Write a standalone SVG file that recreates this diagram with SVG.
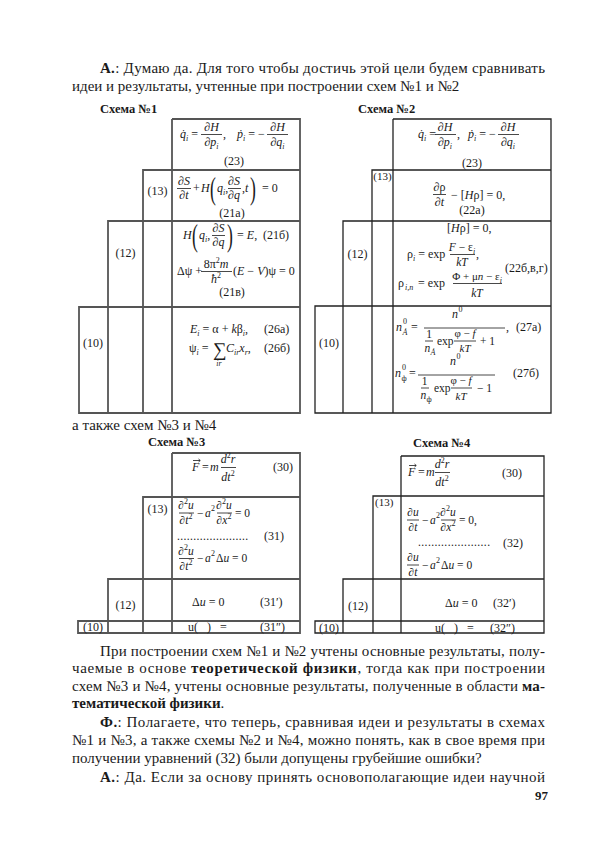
<svg xmlns="http://www.w3.org/2000/svg" width="601" height="850" viewBox="0 0 601 850">
<style>
.tx{font-family:"Liberation Serif","Times New Roman",serif;fill:#1a1a1a}
.p{font-size:15px}
.h{font-size:12.5px;font-weight:bold}
.f{font-size:12px}
.g{font-size:11.5px}
.k{font-size:11px}
.i{font-style:italic}
.sb{font-size:8px}
.b{font-weight:bold}
.fb{stroke:#1a1a1a;stroke-width:0.8}
.vec{fill:none;stroke:#1a1a1a;stroke-width:0.8}
.gr{fill:none;stroke:#555;stroke-width:1.8}
.gk{fill:none;stroke:#222;stroke-width:1.3}
</style>
<rect width="601" height="850" fill="#fff"/>

<g id="text-top">
<text class="tx p" x="100" y="73" textLength="445" lengthAdjust="spacing"><tspan class="b">А.</tspan>: Думаю да. Для того чтобы достичь этой цели будем сравнивать</text>
<text class="tx p" x="72" y="91">идеи и результаты, учтенные при построении схем №1 и №2</text>
<text class="tx h" x="100" y="113">Схема №1</text>
<text class="tx h" x="358" y="113">Схема №2</text>
<text class="tx p" x="72" y="430">а также схем №3 и №4</text>
<text class="tx h" x="148" y="446">Схема №3</text>
<text class="tx h" x="413" y="447">Схема №4</text>
</g>

<!-- Scheme 1 -->
<g id="scheme1">
<g id="s1-frame" class="gr">
<path d="M172,119H300V413H79V307H300M108,413V221H300M143,413V170H300M172,119V413"/>
</g>
<g id="s1-r23">
<text class="tx f" x="180" y="138"><tspan class="i">q̇</tspan><tspan class="i sb" dy="3">i</tspan><tspan dy="-3"> =</tspan></text>
<text class="tx f" x="211.5" y="131" text-anchor="middle">∂<tspan class="i">H</tspan></text>
<line class="fb" x1="201" y1="134.5" x2="222" y2="134.5"/>
<text class="tx f" x="211.5" y="146" text-anchor="middle">∂<tspan class="i">p</tspan><tspan class="i sb" dy="3">i</tspan></text>
<text class="tx f" x="223" y="138">,</text>
<text class="tx f" x="237" y="138"><tspan class="i">ṗ</tspan><tspan class="i sb" dy="3">i</tspan><tspan dy="-3"> = −</tspan></text>
<text class="tx f" x="277.5" y="131" text-anchor="middle">∂<tspan class="i">H</tspan></text>
<line class="fb" x1="267" y1="134.5" x2="288" y2="134.5"/>
<text class="tx f" x="277.5" y="146" text-anchor="middle">∂<tspan class="i">q</tspan><tspan class="i sb" dy="3">i</tspan></text>
<text class="tx f" x="234" y="165" text-anchor="middle">(23)</text>
</g>
<g id="s1-r13">
<text class="tx f" x="157.5" y="195" text-anchor="middle">(13)</text>
<text class="tx f" x="184" y="185" text-anchor="middle">∂<tspan class="i">S</tspan></text>
<line class="fb" x1="177" y1="188.5" x2="191" y2="188.5"/>
<text class="tx f" x="184" y="199" text-anchor="middle">∂<tspan class="i">t</tspan></text>
<text class="tx f" x="193" y="192">+</text>
<text class="tx f i" x="201" y="192">H</text>
<text class="tx" font-size="32" transform="translate(210,199) scale(0.55,1)">(</text>
<text class="tx f" x="217" y="192"><tspan class="i">q</tspan><tspan class="i sb" dy="3">i</tspan><tspan dy="-3">,</tspan></text>
<text class="tx f" x="234" y="185" text-anchor="middle">∂<tspan class="i">S</tspan></text>
<line class="fb" x1="228" y1="188.5" x2="241" y2="188.5"/>
<text class="tx f" x="234" y="199" text-anchor="middle">∂<tspan class="i">q</tspan></text>
<text class="tx f" x="242" y="192">,<tspan class="i">t</tspan></text>
<text class="tx" font-size="32" transform="translate(250,199) scale(0.55,1)">)</text>
<text class="tx f" x="262" y="192">= 0</text>
<text class="tx f" x="232" y="217" text-anchor="middle">(21а)</text>
</g>
<g id="s1-r12">
<text class="tx f" x="125.5" y="257" text-anchor="middle">(12)</text>
<text class="tx f i" x="183" y="239">H</text>
<text class="tx" font-size="32" transform="translate(192,246) scale(0.55,1)">(</text>
<text class="tx f" x="199" y="239"><tspan class="i">q</tspan><tspan class="i sb" dy="3">i</tspan><tspan dy="-3">,</tspan></text>
<text class="tx f" x="218.5" y="232" text-anchor="middle">∂<tspan class="i">S</tspan></text>
<line class="fb" x1="212" y1="235.5" x2="225" y2="235.5"/>
<text class="tx f" x="218.5" y="246" text-anchor="middle">∂<tspan class="i">q</tspan></text>
<text class="tx" font-size="32" transform="translate(227,246) scale(0.55,1)">)</text>
<text class="tx f" x="237" y="239">= <tspan class="i">E</tspan>,</text>
<text class="tx f" x="263" y="239">(21б)</text>
<text class="tx f" x="177" y="275">Δψ +</text>
<text class="tx f" x="216" y="268" text-anchor="middle">8π<tspan class="sb" dy="-5">2</tspan><tspan class="i" dy="5">m</tspan></text>
<line class="fb" x1="201" y1="271.5" x2="232" y2="271.5"/>
<text class="tx f" x="216" y="283" text-anchor="middle"><tspan class="i">ħ</tspan><tspan class="sb" dy="-5">2</tspan></text>
<text class="tx f" x="233" y="275">(<tspan class="i">E</tspan> − <tspan class="i">V</tspan>)ψ = 0</text>
<text class="tx f" x="232" y="296" text-anchor="middle">(21в)</text>
</g>
<g id="s1-r10">
<text class="tx f" x="93" y="347" text-anchor="middle">(10)</text>
<text class="tx f" x="190" y="333"><tspan class="i">E</tspan><tspan class="i sb" dy="3">i</tspan><tspan dy="-3"> = α + </tspan><tspan class="i">k</tspan>β<tspan class="i sb" dy="3">i</tspan><tspan dy="-3">,</tspan></text>
<text class="tx f" x="264" y="333">(26а)</text>
<text class="tx f" x="189" y="352">ψ<tspan class="i sb" dy="3">i</tspan><tspan dy="-3"> =</tspan></text>
<text class="tx" font-size="19" x="213" y="356">∑</text>
<text class="tx i sb" x="219" y="366" text-anchor="middle">ir</text>
<text class="tx f" x="226" y="352"><tspan class="i">C</tspan><tspan class="i sb" dy="3">ir</tspan><tspan class="i" dy="-3">x</tspan><tspan class="i sb" dy="3">r</tspan><tspan dy="-3">,</tspan></text>
<text class="tx f" x="264" y="352">(26б)</text>
</g>
</g>

<!-- Scheme 2 -->
<g id="scheme2">
<g id="s2-frame" class="gk">
<path d="M393,119H551V413H315V306H551M343,413V221H551M372,413V170H551M393,119V413"/>
</g>
<g id="s2-r23">
<text class="tx f" x="418" y="138"><tspan class="i">q̇</tspan><tspan class="i sb" dy="3">i</tspan><tspan dy="-3"> =</tspan></text>
<text class="tx f" x="445" y="131" text-anchor="middle">∂<tspan class="i">H</tspan></text>
<line class="fb" x1="435" y1="134.5" x2="456" y2="134.5"/>
<text class="tx f" x="445" y="146" text-anchor="middle">∂<tspan class="i">p</tspan><tspan class="i sb" dy="3">i</tspan></text>
<text class="tx f" x="457" y="138">,</text>
<text class="tx f" x="468" y="138"><tspan class="i">ṗ</tspan><tspan class="i sb" dy="3">i</tspan><tspan dy="-3"> = −</tspan></text>
<text class="tx f" x="508" y="131" text-anchor="middle">∂<tspan class="i">H</tspan></text>
<line class="fb" x1="498" y1="134.5" x2="519" y2="134.5"/>
<text class="tx f" x="508" y="146" text-anchor="middle">∂<tspan class="i">q</tspan><tspan class="i sb" dy="3">i</tspan></text>
<text class="tx f" x="472" y="167" text-anchor="middle">(23)</text>
</g>
<g id="s2-r13">
<text class="tx k" x="382.5" y="180" text-anchor="middle">(13)</text>
<text class="tx f" x="439.5" y="191" text-anchor="middle">∂ρ</text>
<line class="fb" x1="433" y1="194.5" x2="446" y2="194.5"/>
<text class="tx f" x="439.5" y="206" text-anchor="middle">∂<tspan class="i">t</tspan></text>
<text class="tx f" x="451" y="199">− [<tspan class="i">H</tspan>ρ] = 0,</text>
<text class="tx f" x="472" y="214" text-anchor="middle">(22а)</text>
</g>
<g id="s2-r12">
<text class="tx f" x="357.5" y="258" text-anchor="middle">(12)</text>
<text class="tx f" x="447" y="232">[<tspan class="i">H</tspan>ρ] = 0,</text>
<text class="tx f" x="407" y="258">ρ<tspan class="i sb" dy="3">i</tspan><tspan dy="-3"> = exp</tspan></text>
<text class="tx g" x="462" y="251" text-anchor="middle"><tspan class="i">F</tspan> − ε<tspan class="i sb" dy="3">i</tspan></text>
<line class="fb" x1="450" y1="254.5" x2="475" y2="254.5"/>
<text class="tx g i" x="462" y="266" text-anchor="middle">kT</text>
<text class="tx f" x="476" y="258">,</text>
<text class="tx f" x="505" y="272">(22б,в,г)</text>
<text class="tx f" x="398" y="287">ρ</text>
<text class="tx sb i" x="405" y="290">i,n</text>
<text class="tx f" x="418" y="287">= exp</text>
<text class="tx k" x="477" y="280" text-anchor="middle">Φ + μ<tspan class="i">n</tspan> − ε<tspan class="i sb" dy="3">i</tspan></text>
<line class="fb" x1="453" y1="283.5" x2="502" y2="283.5"/>
<text class="tx g i" x="477" y="297" text-anchor="middle">kT</text>
</g>
<g id="s2-r10">
<text class="tx f" x="329" y="347" text-anchor="middle">(10)</text>
<text class="tx f i" x="396" y="331">n</text>
<text class="tx sb" x="403" y="324">0</text>
<text class="tx sb i" x="402.5" y="335">Ȧ</text>
<text class="tx f" x="411" y="331">=</text>
<text class="tx f i" x="452" y="318">n</text>
<text class="tx sb" x="458.5" y="312">0</text>
<line class="fb" x1="424" y1="328" x2="505" y2="328"/>
<text class="tx g" x="429" y="338" text-anchor="middle">1</text>
<line class="fb" x1="425" y1="341" x2="433" y2="341"/>
<text class="tx g i" x="424.5" y="352">n</text>
<text class="tx sb i" x="430.5" y="355">Ȧ</text>
<text class="tx g" x="437" y="345">exp</text>
<text class="tx k" x="465" y="337" text-anchor="middle">φ − <tspan class="i">f</tspan></text>
<line class="fb" x1="454" y1="341" x2="476" y2="341"/>
<text class="tx k i" x="465" y="352" text-anchor="middle">kT</text>
<text class="tx g" x="480" y="345">+ 1</text>
<text class="tx f" x="506" y="331">,</text>
<text class="tx f" x="516" y="331">(27а)</text>
<text class="tx f i" x="395" y="377">n</text>
<text class="tx sb" x="402" y="370">0</text>
<text class="tx sb" x="401.5" y="381">ф</text>
<text class="tx f" x="409" y="377">=</text>
<text class="tx f i" x="450" y="365">n</text>
<text class="tx sb" x="456.5" y="359">0</text>
<line class="fb" x1="418" y1="375" x2="495" y2="375"/>
<text class="tx g" x="424.5" y="385" text-anchor="middle">1</text>
<line class="fb" x1="421" y1="388" x2="429" y2="388"/>
<text class="tx g i" x="420.5" y="399">n</text>
<text class="tx sb" x="426.5" y="402">ф</text>
<text class="tx g" x="434" y="392">exp</text>
<text class="tx k" x="461" y="384" text-anchor="middle">φ − <tspan class="i">f</tspan></text>
<line class="fb" x1="451" y1="388" x2="472" y2="388"/>
<text class="tx k i" x="461" y="400" text-anchor="middle">kT</text>
<text class="tx g" x="477" y="392">− 1</text>
<text class="tx f" x="513" y="377">(27б)</text>
</g>
</g>

<!-- Scheme 3 -->
<g id="scheme3">
<g id="s3-frame" class="gr">
<path d="M172,453H300V633H78V621H300M108,633V579H300M143,633V497H300M172,453V633"/>
</g>
<g id="s3-r30">
<text class="tx f i" x="192" y="471">F</text>
<path class="vec" d="M193,460.5h7M198.5,459l1.8,1.5l-1.8,1.5"/>
<text class="tx f" x="202" y="471">=</text>
<text class="tx f i" x="210" y="471">m</text>
<text class="tx f" x="228" y="463" text-anchor="middle"><tspan class="i">d</tspan><tspan class="sb" dy="-5">2</tspan><tspan class="i" dy="5">r</tspan></text>
<line class="fb" x1="221" y1="467.5" x2="236" y2="467.5"/>
<text class="tx f" x="228" y="481" text-anchor="middle"><tspan class="i">dt</tspan><tspan class="sb" dy="-5">2</tspan></text>
<text class="tx f" x="273" y="471">(30)</text>
</g>
<g id="s3-r13">
<text class="tx f" x="157.5" y="513" text-anchor="middle">(13)</text>
<text class="tx g" x="186" y="509" text-anchor="middle">∂<tspan class="sb" dy="-5">2</tspan><tspan class="i" dy="5">u</tspan></text>
<line class="fb" x1="179" y1="513" x2="194" y2="513"/>
<text class="tx g" x="186" y="524" text-anchor="middle">∂<tspan class="i">t</tspan><tspan class="sb" dy="-5">2</tspan></text>
<text class="tx g" x="197" y="517">−</text>
<text class="tx g i" x="205" y="517">a</text>
<text class="tx sb" x="211" y="511">2</text>
<text class="tx g" x="224" y="509" text-anchor="middle">∂<tspan class="sb" dy="-5">2</tspan><tspan class="i" dy="5">u</tspan></text>
<line class="fb" x1="217" y1="513" x2="232" y2="513"/>
<text class="tx g" x="224" y="524" text-anchor="middle">∂<tspan class="i">x</tspan><tspan class="sb" dy="-5">2</tspan></text>
<text class="tx g" x="235" y="517">= 0</text>
<text class="tx g" x="177" y="540" textLength="71" lengthAdjust="spacing">......................</text>
<text class="tx f" x="264" y="540">(31)</text>
<text class="tx g" x="186" y="555" text-anchor="middle">∂<tspan class="sb" dy="-5">2</tspan><tspan class="i" dy="5">u</tspan></text>
<line class="fb" x1="179" y1="558.5" x2="194" y2="558.5"/>
<text class="tx g" x="186" y="570" text-anchor="middle">∂<tspan class="i">t</tspan><tspan class="sb" dy="-5">2</tspan></text>
<text class="tx g" x="197" y="562">−</text>
<text class="tx g i" x="205" y="562">a</text>
<text class="tx sb" x="211" y="556">2</text>
<text class="tx g" x="216" y="562">Δ<tspan class="i">u</tspan> = 0</text>
</g>
<g id="s3-r12">
<text class="tx f" x="125.5" y="609" text-anchor="middle">(12)</text>
<text class="tx f" x="192" y="606">Δ<tspan class="i">u</tspan> = 0</text>
<text class="tx f" x="260" y="606">(31′)</text>
</g>
<g id="s3-r10">
<text class="tx f" x="93" y="631" text-anchor="middle">(10)</text>
<text class="tx f" x="188" y="631" xml:space="preserve">u(   )   =</text>
<text class="tx f" x="260" y="631">(31″)</text>
</g>
</g>

<!-- Scheme 4 -->
<g id="scheme4">
<g id="s4-frame" class="gk">
<path d="M401,456H544V633H315V621H544M343,633V579H544M373,633V496H544M401,456V633"/>
</g>
<g id="s4-r30">
<text class="tx f i" x="408" y="476">F</text>
<path class="vec" d="M409,465.5h7M414.5,464l1.8,1.5l-1.8,1.5"/>
<text class="tx f" x="418" y="476">=</text>
<text class="tx f i" x="426" y="476">m</text>
<text class="tx f" x="442" y="468" text-anchor="middle"><tspan class="i">d</tspan><tspan class="sb" dy="-5">2</tspan><tspan class="i" dy="5">r</tspan></text>
<line class="fb" x1="435" y1="472.5" x2="450" y2="472.5"/>
<text class="tx f" x="442" y="486" text-anchor="middle"><tspan class="i">dt</tspan><tspan class="sb" dy="-5">2</tspan></text>
<text class="tx f" x="502" y="477">(30)</text>
</g>
<g id="s4-r13">
<text class="tx k" x="375" y="506">(13)</text>
<text class="tx g" x="413" y="516" text-anchor="middle">∂<tspan class="i">u</tspan></text>
<line class="fb" x1="407" y1="520" x2="419" y2="520"/>
<text class="tx g" x="413" y="531" text-anchor="middle">∂<tspan class="i">t</tspan></text>
<text class="tx g" x="422" y="524">−</text>
<text class="tx g i" x="430" y="524">a</text>
<text class="tx sb" x="436" y="518">2</text>
<text class="tx g" x="448" y="516" text-anchor="middle">∂<tspan class="sb" dy="-5">2</tspan><tspan class="i" dy="5">u</tspan></text>
<line class="fb" x1="441" y1="520" x2="456" y2="520"/>
<text class="tx g" x="448" y="531" text-anchor="middle">∂<tspan class="i">x</tspan><tspan class="sb" dy="-5">2</tspan></text>
<text class="tx g" x="459" y="524">= 0,</text>
<text class="tx g" x="418" y="546" textLength="72" lengthAdjust="spacing">......................</text>
<text class="tx f" x="503" y="547">(32)</text>
<text class="tx g" x="413" y="561" text-anchor="middle">∂<tspan class="i">u</tspan></text>
<line class="fb" x1="407" y1="565" x2="419" y2="565"/>
<text class="tx g" x="413" y="576" text-anchor="middle">∂<tspan class="i">t</tspan></text>
<text class="tx g" x="422" y="569">−</text>
<text class="tx g i" x="430" y="569">a</text>
<text class="tx sb" x="436" y="563">2</text>
<text class="tx g" x="441" y="569">Δ<tspan class="i">u</tspan> = 0</text>
</g>
<g id="s4-r12">
<text class="tx f" x="358" y="610" text-anchor="middle">(12)</text>
<text class="tx f" x="445" y="607">Δ<tspan class="i">u</tspan> = 0</text>
<text class="tx f" x="493" y="607">(32′)</text>
</g>
<g id="s4-r10">
<text class="tx f" x="329" y="632" text-anchor="middle">(10)</text>
<text class="tx f" x="435" y="632" xml:space="preserve">u(   )   =</text>
<text class="tx f" x="490" y="632">(32″)</text>
</g>
</g>

<g id="text-bottom">
<text class="tx p" x="100" y="656" textLength="445" lengthAdjust="spacing">При построении схем №1 и №2 учтены основные результаты, полу-</text>
<text class="tx p" x="72" y="673" textLength="473" lengthAdjust="spacing">чаемые в основе <tspan class="b">теоретической физики</tspan>, тогда как при построении</text>
<text class="tx p" x="72" y="691" textLength="473" lengthAdjust="spacing">схем №3 и №4, учтены основные результаты, полученные в области <tspan class="b">ма-</tspan></text>
<text class="tx p" x="72" y="708"><tspan class="b">тематической физики</tspan>.</text>
<text class="tx p" x="100" y="727" textLength="445" lengthAdjust="spacing"><tspan class="b">Ф.</tspan>: Полагаете, что теперь, сравнивая идеи и результаты в схемах</text>
<text class="tx p" x="72" y="745" textLength="473" lengthAdjust="spacing">№1 и №3, а также схемы №2 и №4, можно понять, как в свое время при</text>
<text class="tx p" x="72" y="763">получении уравнений (32) были допущены грубейшие ошибки?</text>
<text class="tx p" x="100" y="782" textLength="445" lengthAdjust="spacing"><tspan class="b">А.</tspan>: Да. Если за основу принять основополагающие идеи научной</text>
<text class="tx b" font-size="13" x="548" y="800" text-anchor="end">97</text>
</g>
</svg>
